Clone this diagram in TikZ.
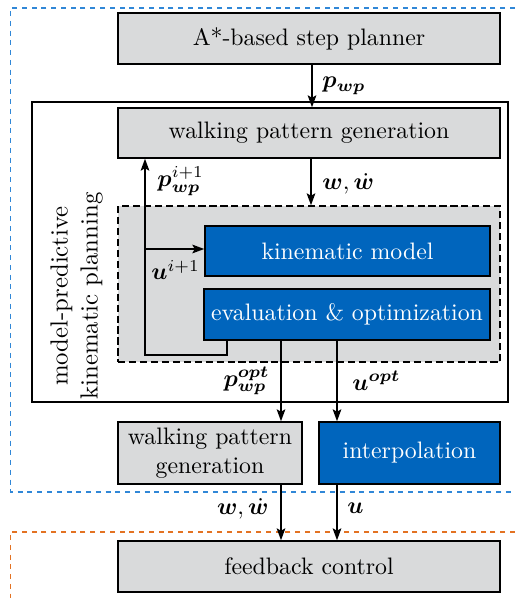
\documentclass[tikz,border=0pt]{standalone}
\usepackage{amsmath,bm}
\usetikzlibrary{arrows.meta,calc}
\definecolor{tumblue}{RGB}{0,101,189}
\definecolor{boxgray}{RGB}{217,218,219}
\definecolor{zoneblue}{RGB}{48,135,215}
\definecolor{zoneorange}{RGB}{227,114,34}
\tikzset{
  pxbox/.style={draw=black, line width=0.6pt, inner sep=0pt, align=center, font=\normalsize},
  graybox/.style={pxbox, fill=boxgray, text=black},
  bluebox/.style={pxbox, fill=tumblue, text=white},
  sz/.style 2 args={minimum width=#1*0.42pt, minimum height=#2*0.42pt},
  arr/.style={line width=0.85pt, -{Stealth[length=5pt,width=3.6pt,inset=1pt]}},
  fbline/.style={line width=0.85pt},
  zone/.style={line width=0.45pt, dash pattern=on 2.1pt off 2pt},
  lbl/.style={inner sep=0pt, font=\normalsize}
}
\begin{document}
\begin{tikzpicture}[x=0.42pt,y=-0.42pt]
\useasboundingbox (0,0) rectangle (515,598);
% zones
\draw[zone, zoneblue] (515,8) -- (10.5,8) -- (10.5,492) -- (515,492);
\draw[zone, zoneorange] (515,532) -- (10.5,532) -- (10.5,598);
% outer solid box
\node[draw=black, line width=0.45pt, inner sep=0pt, sz={476}{300}] (mpc) at (270,252) {};
% dashed gray box
\node[draw=black, fill=boxgray, line width=0.6pt, dash pattern=on 3pt off 1.6pt, inner sep=0pt, sz={382}{156}] (loop) at (309,284) {};
% boxes
\node[graybox, sz={382}{51}] (astar) at (309,38.5) {A*-based step planner};
\node[graybox, sz={382}{50}] (wpg) at (309,133) {walking pattern generation};
\node[bluebox, sz={285}{50}] (kin) at (347.5,251) {kinematic model};
\node[bluebox, sz={286}{51}] (eval) at (347,314.5) {evaluation \& optimization};
\node[graybox, sz={184}{62}] (wpgb) at (210,453) {walking pattern\\generation};
\node[bluebox, sz={181}{62}] (interp) at (409.5,453) {interpolation};
\node[graybox, sz={382}{51}] (fb) at (309,566.5) {feedback control};
% rotated label
\node[rotate=90, align=center, inner sep=0pt, font=\fontsize{10.4}{12.6}\selectfont] (mpclabel) at (76.5,296) {model-predictive\\kinematic planning};
% connectors
\draw[arr] (astar.south -| 312,0) -- (wpg.north -| 312,0);
\node[lbl, anchor=west] (lpwp) at (322,86) {$\bm{p_{wp}}$};
\draw[arr] (wpg.south -| 311,0) -- (loop.north -| 311,0);
\node[lbl, anchor=west] (lw1) at (322,184) {$\bm{w},\dot{\bm{w}}$};
% feedback loop
\coordinate (fbA) at (227,355);
\coordinate (fbB) at (145,355);
\coordinate (fbC) at (145,249);
\draw[fbline] (eval.south -| fbA) -- (fbA) -- (fbB) -- (fbC);
\draw[arr] (fbC) -- (wpg.south -| fbC);
\draw[arr] (fbC) -- (kin.west |- fbC);
\node[lbl, anchor=west] (lpi) at (157,181) {$\bm{p}_{\bm{wp}}^{i+1}$};
\node[lbl, anchor=west] (lui) at (151,270) {$\bm{u}^{i+1}$};
% outputs
\draw[arr] (eval.south -| 281,0) -- (wpgb.north -| 281,0);
\draw[arr] (eval.south -| 337,0) -- (interp.north -| 337,0);
\node[lbl, anchor=east] (lpopt) at (270,381) {$\bm{p}_{\bm{wp}}^{\bm{opt}}$};
\node[lbl, anchor=west] (luopt) at (352,381) {$\bm{u}^{\bm{opt}}$};
\draw[arr] (wpgb.south -| 281,0) -- (fb.north -| 281,0);
\draw[arr] (interp.south -| 337,0) -- (fb.north -| 337,0);
\node[lbl, anchor=east] (lw2) at (269,509) {$\bm{w},\dot{\bm{w}}$};
\node[lbl, anchor=west] (lu) at (347,508) {$\bm{u}$};
\end{tikzpicture}
\end{document}
